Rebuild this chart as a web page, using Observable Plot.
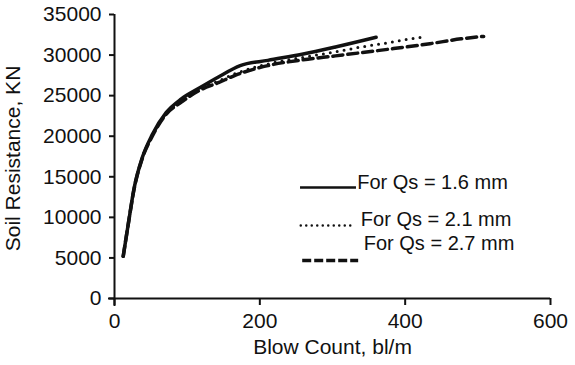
<!DOCTYPE html>
<html>
<head>
<meta charset="utf-8">
<script src="https://cdn.jsdelivr.net/npm/d3@7"></script>
<script src="https://cdn.jsdelivr.net/npm/@observablehq/plot@0.6"></script>
<style>
  body { margin: 0; background: #fff; }
  #chart svg { font-family: "Liberation Sans", Arial, Helvetica, sans-serif; }
</style>
</head>
<body>
<div id="chart"></div>
<script>
// Series: Qs = 1.6 mm (solid)
const blow16 = [12, 19, 27, 38, 52, 71, 92, 116, 143, 173, 211, 258, 304, 360];
const res16  = [5200, 9200, 13600, 17300, 20200, 22900, 24600, 25900, 27300, 28700, 29350, 30100, 31000, 32200];
// Series: Qs = 2.1 mm (dotted)
const blow21 = [12, 19, 27, 38, 52, 71, 92, 116, 143, 166, 211, 258, 304, 340, 375, 400, 422];
const res21  = [5200, 9200, 13600, 17300, 20100, 22800, 24400, 25800, 26800, 27700, 28900, 29700, 30400, 31000, 31500, 31900, 32200];
// Series: Qs = 2.7 mm (dashed)
const blow27 = [12, 19, 27, 38, 52, 71, 92, 116, 143, 166, 211, 258, 304, 340, 384, 434, 477, 508];
const res27  = [5200, 9200, 13500, 17200, 20000, 22700, 24200, 25600, 26600, 27500, 28700, 29400, 29900, 30300, 30800, 31400, 32000, 32300];

const seriesNames = ["For Qs = 1.6 mm", "For Qs = 2.1 mm", "For Qs = 2.7 mm"];
const xTicks = [0, 200, 400, 600];
const yTicks = [0, 5000, 10000, 15000, 20000, 25000, 30000, 35000];
const xLabel = "Blow Count, bl/m";
const yLabel = "Soil Resistance, KN";

// legend placement (in chart units)
const legendLineX1 = [256, 257, 259];
const legendLineX2 = [333, 327, 336];
const legendLineY  = [13680, 9000, 4680];
const legendTextX  = [334, 339, 343];
const legendTextY  = [14300, 9740, 6780];

const toRows = (name, xs, ys) => xs.map((x, i) => ({series: name, x, y: ys[i]}));
const s16 = toRows(seriesNames[0], blow16, res16);
const s21 = toRows(seriesNames[1], blow21, res21);
const s27 = toRows(seriesNames[2], blow27, res27);

const legend = seriesNames.map((name, i) => ({
  name, x1: legendLineX1[i], x2: legendLineX2[i], y: legendLineY[i],
  tx: legendTextX[i], ty: legendTextY[i]
}));

const ink = "#111";

const chart = Plot.plot({
  width: 575,
  height: 365,
  marginLeft: 114,
  marginRight: 25,
  marginTop: 14,
  marginBottom: 67,
  x: {domain: [0, 600]},
  y: {domain: [0, 35000]},
  style: {background: "white", color: ink, fontFamily: "Liberation Sans, Arial, sans-serif"},
  marks: [
    Plot.ruleX([0], {stroke: ink, strokeWidth: 2, insetBottom: -8}),
    Plot.ruleY([0], {stroke: ink, strokeWidth: 2, insetLeft: -6}),
    Plot.axisX({ticks: xTicks, tickSize: 7, tickPadding: 8, fontSize: 21, label: null, strokeWidth: 2, stroke: ink, fill: ink}),
    Plot.axisY({ticks: yTicks, tickSize: 5, tickPadding: 8, fontSize: 21, label: null, strokeWidth: 2, stroke: ink, fill: ink, tickFormat: d => String(d)}),
    Plot.text([xLabel], {text: d => d, frameAnchor: "bottom", lineAnchor: "top", dy: 41, fontSize: 21, fill: ink}),
    Plot.text([yLabel], {text: d => d, frameAnchor: "left", rotate: -90, lineAnchor: "top", textAnchor: "middle", dx: -109, dy: 2, fontSize: 21, fill: ink}),
    // curves
    Plot.line(s27, {x: "x", y: "y", stroke: ink, strokeWidth: 3.5, strokeDasharray: "10,5", curve: "monotone-x"}),
    Plot.line(s21, {x: "x", y: "y", stroke: ink, strokeWidth: 3, strokeDasharray: "0,7", strokeLinecap: "round", curve: "monotone-x"}),
    Plot.line(s16, {x: "x", y: "y", stroke: ink, strokeWidth: 3.5, curve: "monotone-x"}),
    // legend
    Plot.ruleY([legend[0]], {x1: "x1", x2: "x2", y: "y", stroke: ink, strokeWidth: 2.5}),
    Plot.ruleY([legend[1]], {x1: "x1", x2: "x2", y: "y", stroke: ink, strokeWidth: 2.5, strokeDasharray: "0,5.5", strokeLinecap: "round"}),
    Plot.ruleY([legend[2]], {x1: "x1", x2: "x2", y: "y", stroke: ink, strokeWidth: 3.5, strokeDasharray: "9,3"}),
    Plot.text(legend, {x: "tx", y: "ty", text: "name", textAnchor: "start", fontSize: 20, fill: ink})
  ]
});
document.getElementById("chart").appendChild(chart);
</script>
</body>
</html>
